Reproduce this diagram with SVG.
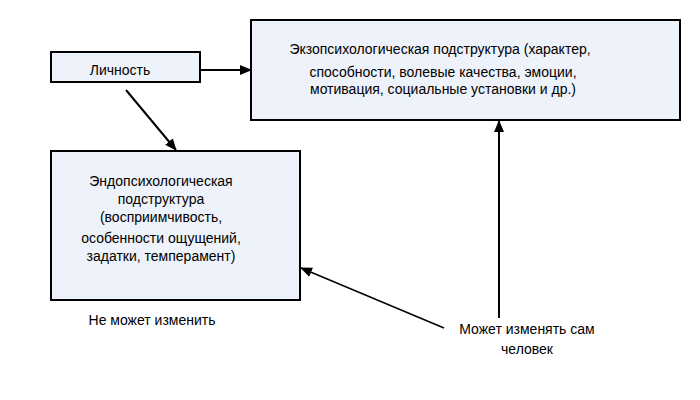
<svg xmlns="http://www.w3.org/2000/svg" width="700" height="400" viewBox="0 0 700 400">
<style>
.box{fill:#EEF2FA;stroke:#000;stroke-width:2}
text{font-family:"Liberation Sans",Arial,sans-serif;font-size:14px;fill:#000;text-anchor:middle}
.c{stroke:#000;stroke-width:2;fill:none;marker-end:url(#a)}
</style>
<defs><marker id="a" markerWidth="8" markerHeight="8" refX="7" refY="4" orient="auto" markerUnits="userSpaceOnUse"><path d="M0,0 L8,4 L0,8 z" fill="#000"/></marker>
<marker id="b" markerWidth="12" markerHeight="10" refX="11" refY="5" orient="auto" markerUnits="userSpaceOnUse"><path d="M0,0 L12,5 L0,10 z" fill="#000"/></marker></defs>
<rect width="700" height="400" fill="#fff"/>
<g id="lichnost"><rect class="box" x="51" y="52" width="149" height="30"/><text x="120" y="75">Личность</text></g>
<g id="ekzo"><rect class="box" x="251" y="20" width="429" height="100"/>
<text x="440" y="54">Экзопсихологическая подструктура (характер,</text>
<text x="443" y="77">способности, волевые качества, эмоции,</text>
<text x="443" y="94">мотивация, социальные установки и др.)</text></g>
<g id="endo"><rect class="box" x="51" y="151" width="249" height="149"/>
<text x="161" y="186">Эндопсихологическая</text>
<text x="161" y="204">подструктура</text>
<text x="161" y="222">(восприимчивость,</text>
<text x="161" y="243">особенности ощущений,</text>
<text x="161" y="261">задатки, темперамент)</text></g>
<g id="labels"><text x="152" y="325">Не может изменить</text>
<text x="527" y="334">Может изменять сам</text>
<text x="527" y="354">человек</text></g>
<g id="connectors">
<line x1="200" y1="70" x2="251" y2="70" style="stroke:#000;stroke-width:2;marker-end:url(#b)"/>
<line x1="126" y1="90" x2="176" y2="150" style="stroke:#000;stroke-width:2;marker-end:url(#b)"/>
<line x1="499" y1="318" x2="499" y2="121" style="stroke:#000;stroke-width:2;marker-end:url(#b)"/>
<line x1="444" y1="328" x2="301" y2="268" style="stroke:#000;stroke-width:1.5;marker-end:url(#b)"/>
</g>
</svg>
